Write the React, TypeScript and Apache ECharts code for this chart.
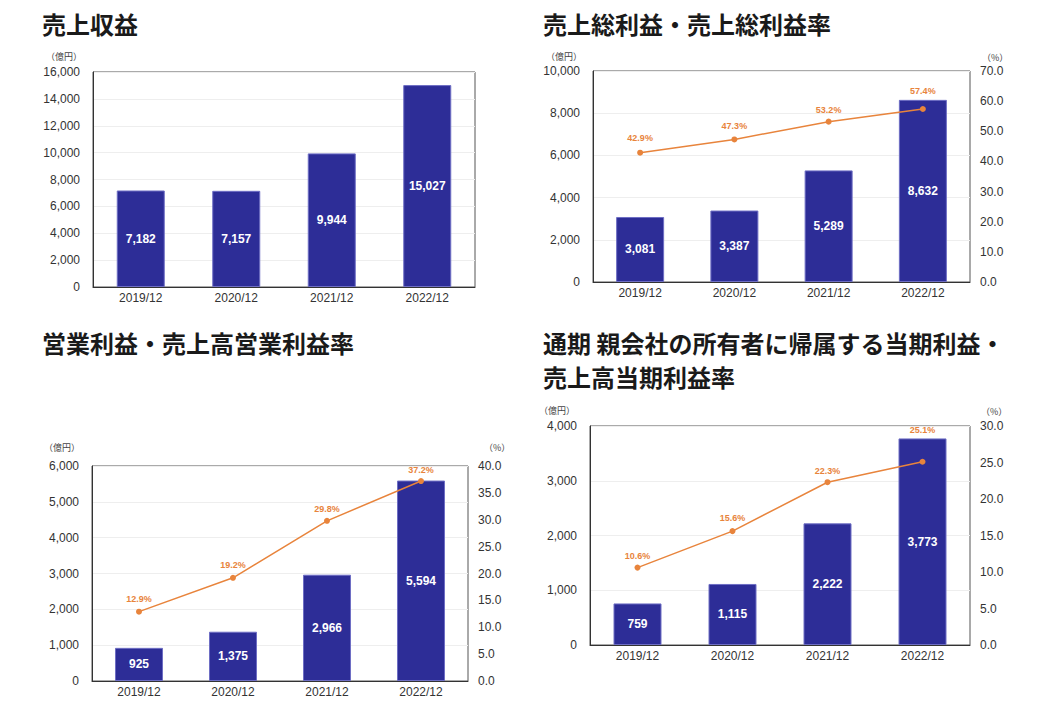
import React, { useEffect, useRef } from "react";
import * as echarts from "echarts";

// Fiscal years shown on every panel
const periods = ["2019/12", "2020/12", "2021/12", "2022/12"];

// 売上収益 (億円)
const revenue = [7182, 7157, 9944, 15027];

// 売上総利益 (億円) and 売上総利益率 (%)
const grossProfit = [3081, 3387, 5289, 8632];
const grossMargin = [42.9, 47.3, 53.2, 57.4];

// 営業利益 (億円) and 売上高営業利益率 (%)
const operatingProfit = [925, 1375, 2966, 5594];
const operatingMargin = [12.9, 19.2, 29.8, 37.2];

// 親会社の所有者に帰属する当期利益 (億円) and 売上高当期利益率 (%)
const netProfit = [759, 1115, 2222, 3773];
const netMargin = [10.6, 15.6, 22.3, 25.1];

// Axis ranges: [max, interval]
const revenueAxis = [16000, 2000];
const grossAxis = [10000, 2000];
const grossRateAxis = [70, 10];
const operatingAxis = [6000, 1000];
const operatingRateAxis = [40, 5];
const netAxis = [4000, 1000];
const netRateAxis = [30, 5];

const titles = [
  "売上収益",
  "売上総利益・売上総利益率",
  "営業利益・売上高営業利益率",
  "通期 親会社の所有者に帰属する当期利益・\n売上高当期利益率",
];

const BAR = "#2d2d97";
const BAR_EDGE = "#6e6ec4";
const LINE = "#e8843c";
const LABEL_FONT = "'Liberation Sans', Arial, sans-serif";
const CJK_FONT = "'Noto Sans CJK JP', 'Noto Sans', sans-serif";

const fmt = (v: number) => v.toLocaleString("en-US");

export default function App() {
  const ref = useRef<HTMLDivElement>(null);

  useEffect(() => {
    document.body.style.margin = "0";
    if (!ref.current) return;
    const chart = echarts.init(ref.current, undefined, { renderer: "svg" });

    const grids = [
      { left: 93, top: 72, width: 382, height: 215 },
      { left: 593, top: 71, width: 377, height: 211 },
      { left: 92, top: 466, width: 376, height: 215 },
      { left: 590, top: 426, width: 380, height: 219 },
    ].map((g) => ({
      ...g,
      show: true,
      borderColor: "#555",
      borderWidth: 1,
      backgroundColor: "#fff",
      containLabel: false,
    }));

    const xAxes = grids.map((_, i) => ({
      type: "category",
      gridIndex: i,
      data: periods,
      axisTick: { show: false },
      axisLine: { lineStyle: { color: "#333", width: 1 } },
      axisLabel: { color: "#333", fontSize: 12, fontFamily: LABEL_FONT, margin: 5 },
    }));

    const leftAxis = (gridIndex: number, range: number[]) => ({
      type: "value",
      gridIndex,
      min: 0,
      max: range[0],
      interval: range[1],
      axisLine: { show: true, lineStyle: { color: "#333" } },
      axisTick: { show: false },
      splitLine: { lineStyle: { color: "#eeeeee", width: 1 } },
      axisLabel: {
        color: "#333",
        fontSize: 12,
        fontFamily: LABEL_FONT,
        margin: 13,
        formatter: (v: number) => fmt(v),
      },
    });

    const rightAxis = (gridIndex: number, range: number[]) => ({
      type: "value",
      gridIndex,
      position: "right",
      min: 0,
      max: range[0],
      interval: range[1],
      axisLine: { show: false },
      axisTick: { show: false },
      splitLine: { show: false },
      axisLabel: {
        color: "#333",
        fontSize: 12,
        fontFamily: LABEL_FONT,
        margin: 10,
        formatter: (v: number) => v.toFixed(1),
      },
    });

    const yAxes = [
      leftAxis(0, revenueAxis),
      leftAxis(1, grossAxis),
      rightAxis(1, grossRateAxis),
      leftAxis(2, operatingAxis),
      rightAxis(2, operatingRateAxis),
      leftAxis(3, netAxis),
      rightAxis(3, netRateAxis),
    ];

    const bars = (values: number[], axis: number, yAxis: number) => ({
      type: "bar",
      xAxisIndex: axis,
      yAxisIndex: yAxis,
      data: values,
      barWidth: 48,
      itemStyle: { color: BAR, borderColor: BAR_EDGE, borderWidth: 1 },
      label: {
        show: true,
        position: "inside",
        color: "#fff",
        fontSize: 12,
        fontWeight: "bold",
        fontFamily: LABEL_FONT,
        formatter: (p: any) => fmt(p.value),
      },
    });

    // Per-point vertical nudges for the rate labels
    const rateLine = (values: number[], axis: number, yAxis: number, nudges: number[]) => ({
      type: "line",
      xAxisIndex: axis,
      yAxisIndex: yAxis,
      data: values.map((v, i) => ({
        value: v,
        label: { offset: [0, nudges[i]] },
      })),
      symbol: "circle",
      symbolSize: 6,
      lineStyle: { color: LINE, width: 1.5 },
      itemStyle: { color: LINE },
      z: 5,
      label: {
        show: true,
        position: "top",
        distance: 4,
        color: LINE,
        fontSize: 9,
        fontWeight: "bold",
        fontFamily: LABEL_FONT,
        formatter: (p: any) => p.value.toFixed(1) + "%",
      },
    });

    const series = [
      bars(revenue, 0, 0),
      bars(grossProfit, 1, 1),
      rateLine(grossMargin, 1, 2, [-3, -2, 0, -6]),
      bars(operatingProfit, 2, 3),
      rateLine(operatingMargin, 2, 4, [-1, -1, 0, 0]),
      bars(netProfit, 3, 5),
      rateLine(netMargin, 3, 6, [0, -2, 0, -20]),
    ];

    const unit = (text: string, x: number, y: number, align: "left" | "right") => ({
      type: "text",
      x,
      y,
      style: {
        text,
        fill: "#444",
        fontSize: 9,
        fontFamily: CJK_FONT,
        align,
        verticalAlign: "middle",
      },
    });

    const heading = (text: string, x: number, y: number) => ({
      type: "text",
      x,
      y,
      style: {
        text,
        fill: "#1a1a1a",
        fontSize: 24,
        fontWeight: "bold",
        fontFamily: CJK_FONT,
        lineHeight: 34,
        verticalAlign: "top",
      },
    });

    chart.setOption({
      animation: false,
      backgroundColor: "#fff",
      grid: grids,
      xAxis: xAxes,
      yAxis: yAxes,
      series,
      graphic: [
        heading(titles[0], 42, 6),
        heading(titles[1], 543, 6),
        heading(titles[2], 42, 325),
        heading(titles[3], 543, 325),
        unit("（億円）", 82, 56, "right"),
        unit("（億円）", 582, 56, "right"),
        unit("（%）", 982, 57, "left"),
        unit("（億円）", 80, 447, "right"),
        unit("（%）", 484, 447, "left"),
        unit("（億円）", 575, 410, "right"),
        unit("（%）", 981, 411, "left"),
      ],
    });

    return () => chart.dispose();
  }, []);

  return <div ref={ref} style={{ width: 1057, height: 706 }} />;
}
